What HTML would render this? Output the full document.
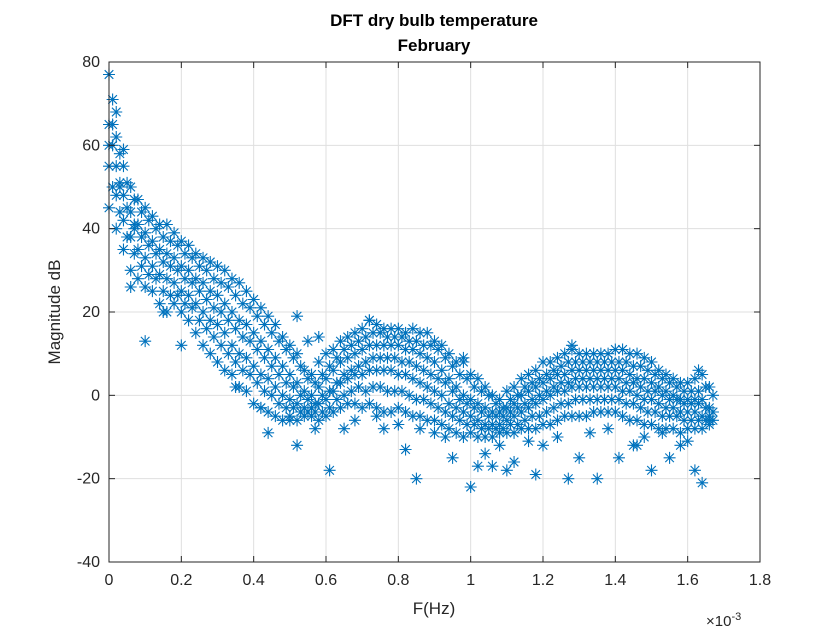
<!DOCTYPE html>
<html><head><meta charset="utf-8"><style>
html,body{margin:0;padding:0;background:#fff;}
svg text{font-family:"Liberation Sans",Arial,sans-serif;fill:#262626;}
</style></head><body>
<svg id="chart" width="840" height="630" xmlns="http://www.w3.org/2000/svg">
<rect width="840" height="630" fill="#fff"/>
<text x="434" y="26" text-anchor="middle" font-size="17" font-weight="bold" style="fill:#000">DFT dry bulb temperature</text>
<text x="434" y="51" text-anchor="middle" font-size="17" font-weight="bold" style="fill:#000">February</text>
<g id="grid"></g>
<g id="marks"></g>
<g id="axes"></g>
<text transform="translate(60,312) rotate(-90)" text-anchor="middle" font-size="17">Magnitude dB</text>
<text x="434" y="614" text-anchor="middle" font-size="17">F(Hz)</text>
<text x="706" y="626" font-size="15">×10<tspan font-size="11" dy="-6">-3</tspan></text>
</svg>
<script>
const xTicks=[0,0.2,0.4,0.6,0.8,1,1.2,1.4,1.6,1.8];
const xTickLabels=["0","0.2","0.4","0.6","0.8","1","1.2","1.4","1.6","1.8"];
const yTicks=[-40,-20,0,20,40,60,80];
const yTickLabels=["-40","-20","0","20","40","60","80"];
const freqs=[0,0.02,0.04,0.06,0.08,0.10,0.12,0.14,0.16,0.18,0.20,0.22,0.24,0.26,0.28,0.30,0.32,0.34,0.36,0.38,0.40,0.42,0.44,0.46,0.48,0.50,0.52,0.54,0.56,0.58,0.60,0.62,0.64,0.66,0.68,0.70,0.72,0.74,0.76,0.78,0.80,0.82,0.84,0.86,0.88,0.90,0.92,0.94,0.96,0.98,1.00,1.02,1.04,1.06,1.08,1.10,1.12,1.14,1.16,1.18,1.20,1.22,1.24,1.26,1.28,1.30,1.32,1.34,1.36,1.38,1.40,1.42,1.44,1.46,1.48,1.50,1.52,1.54,1.56,1.58,1.60,1.62,1.64,1.66];
const hiVals=[77,62,55,50,47,45,43,41,41,39,37,36,34,33,32,31,30,28,27,25,23,21,19,17,14,12,10,6,5,8,10,11,13,14,15,16,18,17,16,16,16,15,16,15,15,13,12,10,8,8,5,4,2,0,-1,1,2,4,5,6,8,8,9,10,11,10,10,10,10,10,11,11,10,10,9,8,6,5,4,3,3,4,5,2];
const fill1Vals=[71,58,51,47,44,42,40,38,37,36,34,33,31,30,28,27,26,24,22,21,19,17,15,13,11,9,7,4,3,5,7,9,11,12,13,14,15,15,14,14,14,13,13,12,12,11,9,7,5,4,2,1,0,-2,-3,-1,0,2,3,4,5,6,7,8,8,8,8,8,8,8,8,8,7,7,6,5,4,3,2,1,1,1,2,0];
const mid1Vals=[65,55,48,44,41,39,37,35,34,33,31,30,28,27,25,24,22,20,18,17,15,13,11,9,7,5,3,1,0,2,4,6,8,9,10,11,12,12,12,12,12,11,11,10,9,8,6,4,2,0,-1,-2,-3,-4,-4,-3,-2,0,1,2,3,4,5,5,6,6,6,6,6,6,6,6,5,4,4,3,2,1,0,-1,-1,-1,-1,-3];
const fill2Vals=[60,51,45,41,38,36,34,32,31,30,28,27,25,23,21,20,18,16,14,13,11,9,7,5,3,2,0,-1,-2,0,1,3,5,6,7,8,9,9,9,9,8,8,7,6,5,4,3,1,-1,-2,-3,-4,-5,-5,-5,-4,-3,-2,-1,0,1,2,3,3,4,4,4,4,4,4,4,3,3,2,1,1,0,-1,-1,-2,-2,-2,-3,-4];
const mid2Vals=[55,48,42,38,35,33,31,29,28,27,25,24,22,20,18,17,15,12,10,9,7,5,4,2,0,-1,-2,-3,-3,-2,-1,1,3,4,5,5,6,6,6,6,5,5,4,3,2,1,0,-2,-3,-4,-5,-6,-7,-7,-7,-6,-5,-4,-3,-2,-1,0,1,1,2,2,2,2,2,2,2,1,1,0,-1,-1,-2,-3,-3,-4,-4,-4,-5,-6];
const fill3Vals=[50,44,38,34,31,29,28,25,24,24,22,21,18,16,14,12,10,8,6,5,3,1,0,-2,-3,-3,-4,-4,-4,-4,-3,-1,0,1,2,1,2,2,1,1,1,0,-1,-1,-2,-3,-4,-5,-6,-7,-7,-8,-8,-8,-8,-7,-7,-6,-5,-5,-4,-3,-2,-2,-1,-1,-1,-1,-1,-1,-1,-2,-2,-3,-4,-4,-5,-5,-5,-6,-6,-6,-6,-6];
const loVals=[45,40,35,30,28,26,25,22,20,22,20,18,15,12,10,8,6,5,2,1,-2,-3,-4,-5,-6,-5,-6,-5,-5,-6,-5,-4,-3,-2,-2,-3,-2,-3,-4,-4,-3,-4,-5,-5,-6,-6,-7,-8,-9,-10,-9,-10,-10,-10,-9,-9,-9,-8,-8,-8,-7,-7,-6,-5,-5,-5,-5,-4,-4,-4,-4,-5,-6,-6,-7,-7,-8,-8,-8,-9,-8,-8,-8,-7];
const outF=[0.1,0.2,0.15,0.06,0.35,0.44,0.52,0.57,0.61,0.65,0.76,0.82,0.86,0.95,1.0,1.04,1.06,1.1,1.18,1.27,1.3,1.35,1.41,1.46,1.5,1.55,1.58,1.62,1.64,0.52,0.58,0.72,0.98,1.28,1.63,0.85,1.02,1.12,1.2,1.45,0.55,0.02,0.01,0.04,0.0,0.42,0.5,0.68,0.74,0.8,0.9,0.93,1.08,1.16,1.24,1.33,1.38,1.48,1.53,1.6,1.66,0.03,0.07];
const outV=[13,12,20,26,2,-9,-12,-8,-18,-8,-8,-13,-8,-15,-22,-14,-17,-18,-19,-20,-15,-20,-15,-12,-18,-15,-12,-18,-21,19,14,18,9,12,6,-20,-17,-16,-12,-12,13,68,65,59,60,-3,-6,-6,-5,-7,-9,-10,-12,-11,-10,-9,-8,-10,-9,-11,-5,50,40];

const L=109,R=760,T=62,B=562;
const xs=v=>L+(v-0)/(1.8)*(R-L);
const ys=v=>B-(v+40)/120*(B-T);
const NS="http://www.w3.org/2000/svg";
function mk(tag,attrs,parent){const e=document.createElementNS(NS,tag);for(const k in attrs)e.setAttribute(k,attrs[k]);parent.appendChild(e);return e;}
const grid=document.getElementById('grid'),axes=document.getElementById('axes'),marks=document.getElementById('marks');
xTicks.forEach((t,i)=>{
  const x=xs(t);
  const g=mk('line',{x1:x,x2:x,y1:T,y2:B,stroke:'#dfdfdf','stroke-width':1},grid);
  
  
  mk('line',{x1:x,x2:x,y1:B,y2:B-6,stroke:'#262626'},axes);
  mk('line',{x1:x,x2:x,y1:T,y2:T+6,stroke:'#262626'},axes);
  const tx=mk('text',{x:x,y:B+23,'text-anchor':'middle','font-size':16},axes);
  tx.textContent=xTickLabels[i];
  
  
});
yTicks.forEach((t,i)=>{
  const y=ys(t);
  const g=mk('line',{x1:L,x2:R,y1:y,y2:y,stroke:'#dfdfdf','stroke-width':1},grid);
  
  
  mk('line',{x1:L,x2:L+6,y1:y,y2:y,stroke:'#262626'},axes);
  mk('line',{x1:R,x2:R-6,y1:y,y2:y,stroke:'#262626'},axes);
  const tx=mk('text',{x:L-9,y:y+5,'text-anchor':'end','font-size':16},axes);
  tx.textContent=yTickLabels[i];
  
  
});
const box=mk('rect',{x:L,y:T,width:R-L,height:B-T,fill:'none',stroke:'#262626','stroke-width':1},axes);


function star(f,v){
  const x=xs(f),y=ys(v),r=6,d=4.3;
  const p=mk('path',{d:`M${x-r},${y}H${x+r}M${x},${y-r}V${y+r}M${x-d},${y-d}L${x+d},${y+d}M${x-d},${y+d}L${x+d},${y-d}`,stroke:'#0072BD','stroke-width':1.1,fill:'none'},marks);
  
  
}
[hiVals,mid1Vals,mid2Vals,loVals].forEach(arr=>freqs.forEach((f,i)=>star(f,arr[i])));
[fill1Vals,fill2Vals,fill3Vals].forEach(arr=>freqs.forEach((f,i)=>star(f+0.01,arr[i])));
outF.forEach((f,i)=>star(f,outV[i]));
</script>
</body></html>
